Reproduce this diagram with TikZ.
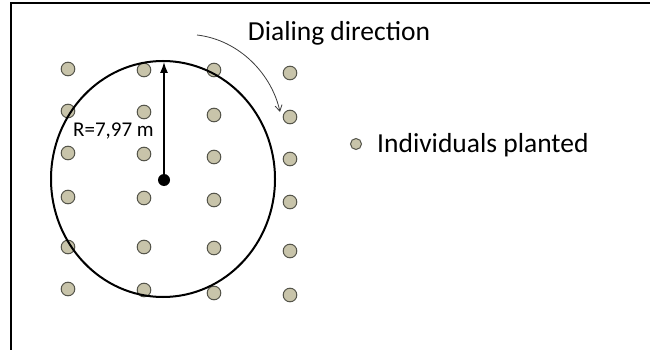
\documentclass[tikz,border=0pt]{standalone}
\usepackage{fontspec}
\setmainfont{Carlito}
\usetikzlibrary{arrows.meta}
\begin{document}
\begin{tikzpicture}[x=1pt,y=-1pt,>=Latex]
\definecolor{plant}{RGB}{200,196,170}
\definecolor{plantedge}{RGB}{85,85,75}
\definecolor{pen}{RGB}{60,60,60}
\tikzset{plantdot/.style={fill=plant,draw=plantedge,line width=1pt},
 bigtext/.style={font=\fontsize{27.5}{32}\selectfont,inner sep=0pt}}
\useasboundingbox (0,0) rectangle (650,350);
\draw[line width=2pt] (11,350)--(11,3)--(650,3);
% planting grid, one list of row positions per column
\foreach \x/\ys in {68/{69,111,153,197,247,289},144/{70,112,154,198,247,290},
 214/{70,115,157,200,248,293},290/{73,117,159,202,251,295}}{
 \foreach \y in \ys {\filldraw[plantdot] (\x,\y) circle(6.8);}
}
\draw[line width=2pt] (163,179) ellipse[x radius=112,y radius=118];
\coordinate (O) at (164,180);
\coordinate (top) at (164,62);
\draw[-{Latex[length=11pt,width=8pt]},line width=1.3pt] (O)--(top);
\fill (O) circle(6);
\node[font=\fontsize{21}{25}\selectfont,anchor=base west,inner sep=0pt] (rlabel) at (73,136) {R=7,97 m};
\node[bigtext,anchor=base] (title) at (339,41) {Dialing direction};
\coordinate (dialstart) at (197,35);
\coordinate (dialend) at (280,112);
\draw[-{Straight Barb[length=6pt,width=7pt]},pen,line width=0.8pt] (dialstart)
 .. controls (240,40) and (272,75) .. (dialend);
\node[circle,plantdot,minimum size=11pt,inner sep=0pt] (key) at (356,144) {};
\node[bigtext,anchor=base west] (legend) at (377,152) {Individuals planted};
\end{tikzpicture}
\end{document}
